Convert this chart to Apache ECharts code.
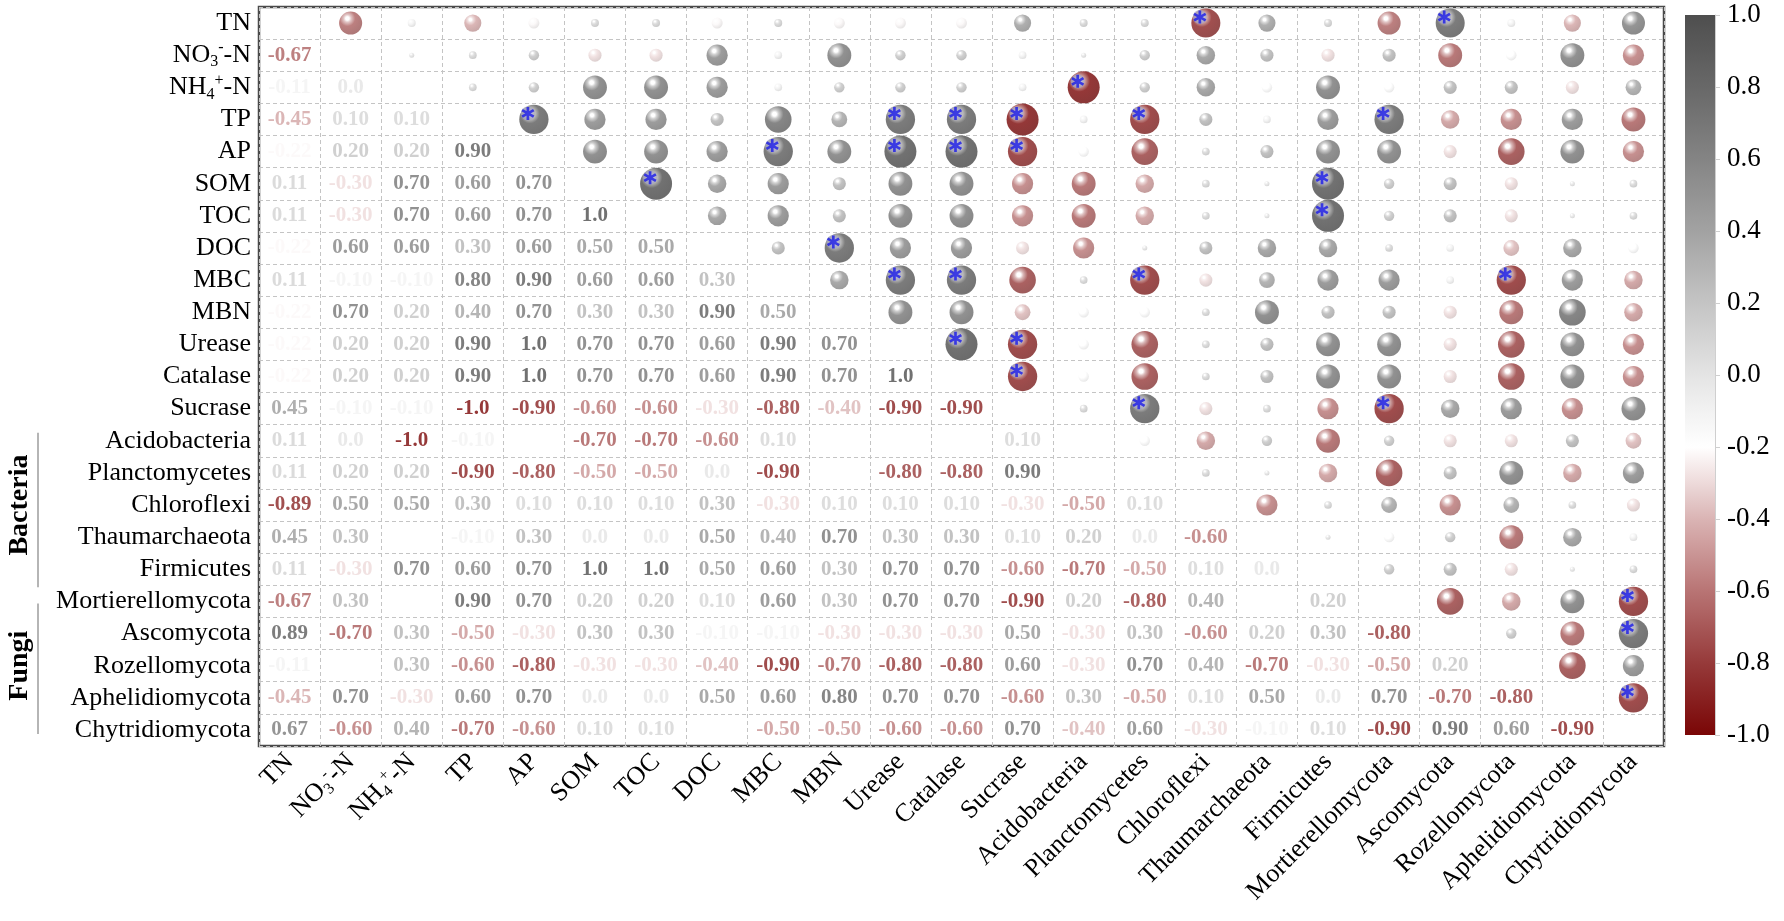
<!DOCTYPE html>
<html>
<head>
<meta charset="utf-8">
<script src="https://cdn.jsdelivr.net/npm/echarts@6/dist/echarts.min.js"></script>
<style>
html,body{margin:0;padding:0;background:#fff}
#chart{width:1784px;height:921px}
</style>
</head>
<body>
<div id="chart"></div>
<script>
// variable names (rows top->bottom, columns left->right)
var names = ['TN','NO3-N','NH4-N','TP','AP','SOM','TOC','DOC','MBC','MBN','Urease','Catalase','Sucrase',
	'Acidobacteria','Planctomycetes','Chloroflexi','Thaumarchaeota','Firmicutes',
	'Mortierellomycota','Ascomycota','Rozellomycota','Aphelidiomycota','Chytridiomycota'];

// lower triangle, one row per variable (columns TN .. previous variable)
var r_TN = [];
var r_NO3 = [-0.67];
var r_NH4 = [-0.11, 0.0];
var r_TP = [-0.45, 0.10, 0.10];
var r_AP = [-0.22, 0.20, 0.20, 0.90];
var r_SOM = [0.11, -0.30, 0.70, 0.60, 0.70];
var r_TOC = [0.11, -0.30, 0.70, 0.60, 0.70, 1.0];
var r_DOC = [-0.22, 0.60, 0.60, 0.30, 0.60, 0.50, 0.50];
var r_MBC = [0.11, -0.10, -0.10, 0.80, 0.90, 0.60, 0.60, 0.30];
var r_MBN = [-0.22, 0.70, 0.20, 0.40, 0.70, 0.30, 0.30, 0.90, 0.50];
var r_Urease = [-0.22, 0.20, 0.20, 0.90, 1.0, 0.70, 0.70, 0.60, 0.90, 0.70];
var r_Catalase = [-0.22, 0.20, 0.20, 0.90, 1.0, 0.70, 0.70, 0.60, 0.90, 0.70, 1.0];
var r_Sucrase = [0.45, -0.10, -0.10, -1.0, -0.90, -0.60, -0.60, -0.30, -0.80, -0.40, -0.90, -0.90];
var r_Acido = [0.11, 0.0, -1.0, -0.10, -0.20, -0.70, -0.70, -0.60, 0.10, -0.20, -0.20, -0.20, 0.10];
var r_Plancto = [0.11, 0.20, 0.20, -0.90, -0.80, -0.50, -0.50, 0.0, -0.90, -0.20, -0.80, -0.80, 0.90, -0.20];
var r_Chloro = [-0.89, 0.50, 0.50, 0.30, 0.10, 0.10, 0.10, 0.30, -0.30, 0.10, 0.10, 0.10, -0.30, -0.50, 0.10];
var r_Thaum = [0.45, 0.30, -0.20, -0.10, 0.30, 0.0, 0.0, 0.50, 0.40, 0.70, 0.30, 0.30, 0.10, 0.20, 0.0, -0.60];
var r_Firmi = [0.11, -0.30, 0.70, 0.60, 0.70, 1.0, 1.0, 0.50, 0.60, 0.30, 0.70, 0.70, -0.60, -0.70, -0.50, 0.10, 0.0];
var r_Mort = [-0.67, 0.30, -0.20, 0.90, 0.70, 0.20, 0.20, 0.10, 0.60, 0.30, 0.70, 0.70, -0.90, 0.20, -0.80, 0.40, -0.20, 0.20];
var r_Asco = [0.89, -0.70, 0.30, -0.50, -0.30, 0.30, 0.30, -0.10, -0.10, -0.30, -0.30, -0.30, 0.50, -0.30, 0.30, -0.60, 0.20, 0.30, -0.80];
var r_Rozel = [-0.11, -0.20, 0.30, -0.60, -0.80, -0.30, -0.30, -0.40, -0.90, -0.70, -0.80, -0.80, 0.60, -0.30, 0.70, 0.40, -0.70, -0.30, -0.50, 0.20];
var r_Aphel = [-0.45, 0.70, -0.30, 0.60, 0.70, 0.0, 0.0, 0.50, 0.60, 0.80, 0.70, 0.70, -0.60, 0.30, -0.50, 0.10, 0.50, 0.0, 0.70, -0.70, -0.80];
var r_Chytr = [0.67, -0.60, 0.40, -0.70, -0.60, 0.10, 0.10, -0.20, -0.50, -0.50, -0.60, -0.60, 0.70, -0.40, 0.60, -0.30, -0.10, 0.10, -0.90, 0.90, 0.60, -0.90];

var rows = [r_TN, r_NO3, r_NH4, r_TP, r_AP, r_SOM, r_TOC, r_DOC, r_MBC, r_MBN, r_Urease, r_Catalase, r_Sucrase,
	r_Acido, r_Plancto, r_Chloro, r_Thaum, r_Firmi, r_Mort, r_Asco, r_Rozel, r_Aphel, r_Chytr];

// colour bar ticks
var cbTicks = [-1.0, -0.8, -0.6, -0.4, -0.2, 0.0, 0.2, 0.4, 0.6, 0.8, 1.0];
var sigLevel = 0.85;

// colour map (value -> rgb)
var cmapStops = [
	[-1.0, [122, 6, 6]],
	[-0.8, [150, 58, 58]],
	[-0.6, [184, 116, 116]],
	[-0.4, [218, 180, 180]],
	[-0.2, [255, 255, 255]],
	[0.0, [228, 228, 228]],
	[0.2, [196, 196, 196]],
	[0.4, [162, 162, 162]],
	[0.6, [132, 132, 132]],
	[0.8, [104, 104, 104]],
	[1.0, [78, 78, 78]]
];
function cmapRGB(v) {
	if (v <= cmapStops[0][0]) return cmapStops[0][1];
	for (var k = 1; k < cmapStops.length; k++) {
		if (v <= cmapStops[k][0]) {
			var a = cmapStops[k-1], b = cmapStops[k];
			var t = (v - a[0]) / (b[0] - a[0]);
			return [0,1,2].map(function (c) { return Math.round(a[1][c] + (b[1][c] - a[1][c]) * t); });
		}
	}
	return cmapStops[cmapStops.length-1][1];
}
function rgbStr(c) { return 'rgb(' + c[0] + ',' + c[1] + ',' + c[2] + ')'; }
function mix(c, d, t) { return [0,1,2].map(function (k) { return Math.round(c[k] + (d[k] - c[k]) * t); }); }

function fmt(v) {
	if (v === 0 || Math.abs(v) === 1) return v.toFixed(1);
	return v.toFixed(2);
}
function richName(s) {
	if (s === 'NO3-N') return '{t|NO}{sb|3}{sp|-}{t|-N}';
	if (s === 'NH4-N') return '{t|NH}{sb|4}{sp|+}{t|-N}';
	return '{t|' + s + '}';
}
var labelRich = {
	t: {fontSize: 26, fontFamily: 'Liberation Serif', color: '#000'},
	sb: {fontSize: 16, fontFamily: 'Liberation Serif', color: '#000', padding: [14, 0, 0, 0]},
	sp: {fontSize: 16, fontFamily: 'Liberation Serif', color: '#000', padding: [0, 0, 14, 0]}
};

var n = names.length;
function corr(i, j) {
	if (i === j) return 1;
	return i > j ? rows[i][j] : rows[j][i];
}

var circleData = [], starData = [], textData = [];
for (var i = 0; i < n; i++) {
	for (var j = 0; j < n; j++) {
		if (i === j) continue;
		var v = corr(i, j);
		var c = cmapRGB(v);
		if (j > i) {
			circleData.push({
				value: [names[j], names[i], v],
				symbolSize: 5 + 27 * Math.abs(v),
				itemStyle: {
					color: new echarts.graphic.RadialGradient(0.36, 0.3, 0.75, [
						{offset: 0, color: '#ffffff'},
						{offset: 0.1, color: '#ffffff'},
						{offset: 0.22, color: rgbStr(mix(c, [255,255,255], 0.55))},
						{offset: 0.45, color: rgbStr(c)},
						{offset: 1, color: rgbStr(mix(c, [0,0,0], 0.12))}
					])
				}
			});
			if (Math.abs(v) >= sigLevel) starData.push([names[j], names[i], v]);
		} else {
			textData.push({
				value: [names[j], names[i], v],
				label: {color: rgbStr(c)}
			});
		}
	}
}

var starPath = 'path://M-0.2,1L0.2,1L0.2,-1L-0.2,-1Z M0.766,0.673L0.966,0.327L-0.766,-0.673L-0.966,-0.327Z M-0.966,0.327L-0.766,0.673L0.966,-0.327L0.766,-0.673Z';

var gridL = 259, gridT = 7, gridW = 1405, gridH = 739;

var chart = echarts.init(document.getElementById('chart'));
var option = {
	animation: false,
	backgroundColor: '#fff',
	grid: [
		{left: gridL, top: gridT, width: gridW, height: gridH, show: true, borderColor: '#4a4a4a', borderWidth: 2.5, backgroundColor: 'transparent'},
		{left: 1685, top: 15, width: 30, height: 720}
	],
	xAxis: [
		{
			type: 'category', gridIndex: 0, data: names,
			axisLine: {show: false}, axisTick: {show: false},
			axisLabel: {interval: 0, rotate: 45, margin: 12, formatter: richName, rich: labelRich},
			splitLine: {show: true, interval: 0, lineStyle: {color: '#c4c4c4', type: [4, 3], width: 1}}
		},
		{type: 'category', gridIndex: 1, data: [''], show: false}
	],
	yAxis: [
		{
			type: 'category', gridIndex: 0, data: names, inverse: true,
			axisLine: {show: false}, axisTick: {show: false},
			axisLabel: {interval: 0, margin: 8, formatter: richName, rich: labelRich},
			splitLine: {show: true, interval: 0, lineStyle: {color: '#c4c4c4', type: [4, 3], width: 1}}
		},
		{
			type: 'value', gridIndex: 1, min: -1, max: 1, interval: 0.2, position: 'right',
			axisLine: {show: true, lineStyle: {color: '#cfcfcf', width: 1}},
			axisTick: {show: true, length: 5, lineStyle: {color: '#cfcfcf'}},
			splitLine: {show: false},
			axisLabel: {margin: 12, fontSize: 27, fontFamily: 'Liberation Serif', color: '#000',
				formatter: function (v) { return (Math.round(v * 10) / 10).toFixed(1); }}
		}
	],
	series: [
		{
			type: 'scatter', name: 'circles', xAxisIndex: 0, yAxisIndex: 0,
			symbol: 'circle', data: circleData, z: 3
		},
		{
			type: 'scatter', name: 'sigdisc', xAxisIndex: 0, yAxisIndex: 0,
			symbol: 'circle', symbolSize: 14, symbolOffset: [-6, -6],
			itemStyle: {color: 'rgba(165,165,195,0.9)'},
			data: starData, z: 4
		},
		{
			type: 'scatter', name: 'stars', xAxisIndex: 0, yAxisIndex: 0,
			symbol: starPath, symbolSize: 13, symbolOffset: [-6, -6],
			itemStyle: {color: '#1a1ae6'},
			data: starData, z: 5
		},
		{
			type: 'scatter', name: 'values', xAxisIndex: 0, yAxisIndex: 0,
			symbolSize: 1, itemStyle: {color: 'rgba(0,0,0,0)'},
			label: {show: true, position: 'inside', fontSize: 21, fontWeight: 'bold', fontFamily: 'Liberation Serif',
				formatter: function (p) { return fmt(p.value[2]); }},
			data: textData, z: 6
		},
		{
			type: 'custom', name: 'colorbar', xAxisIndex: 1, yAxisIndex: 1,
			data: [[0, 1]],
			renderItem: function (params, api) {
				var top = api.coord([0, cbTicks[cbTicks.length-1]]);
				var bot = api.coord([0, cbTicks[0]]);
				var w = api.size([1, 0])[0];
				var stops = [];
				for (var k = 0; k <= 40; k++) {
					var val = 1 - 2 * k / 40;
					stops.push({offset: k / 40, color: rgbStr(cmapRGB(val))});
				}
				return {
					type: 'rect',
					shape: {x: top[0] - w / 2, y: top[1], width: w, height: bot[1] - top[1]},
					style: {fill: new echarts.graphic.LinearGradient(0, 0, 0, 1, stops)}
				};
			}
		}
	]
};
chart.setOption(option);

// group brackets on the left
function rowY(name) { return chart.convertToPixel({yAxisIndex: 0}, name); }
var bTop = rowY('Acidobacteria'), bBot = rowY('Firmicutes');
var fTop = rowY('Mortierellomycota'), fBot = rowY('Chytridiomycota');
chart.setOption({
	graphic: [
		{type: 'line', shape: {x1: 38, y1: bTop - 8, x2: 38, y2: bBot + 18}, style: {stroke: '#b5b5b5', lineWidth: 2}},
		{type: 'line', shape: {x1: 38, y1: fTop + 2, x2: 38, y2: fBot + 4}, style: {stroke: '#b5b5b5', lineWidth: 2}},
		{type: 'text', x: 20, y: (bTop + bBot) / 2, rotation: Math.PI / 2,
			style: {text: 'Bacteria', font: 'bold 28px "Liberation Serif"', fill: '#000', textAlign: 'center', textVerticalAlign: 'middle'}},
		{type: 'text', x: 20, y: (fTop + fBot) / 2, rotation: Math.PI / 2,
			style: {text: 'Fungi', font: 'bold 28px "Liberation Serif"', fill: '#000', textAlign: 'center', textVerticalAlign: 'middle'}}
	]
});
window.addEventListener('resize', function () { chart.resize(); });
</script>
</body>
</html>
